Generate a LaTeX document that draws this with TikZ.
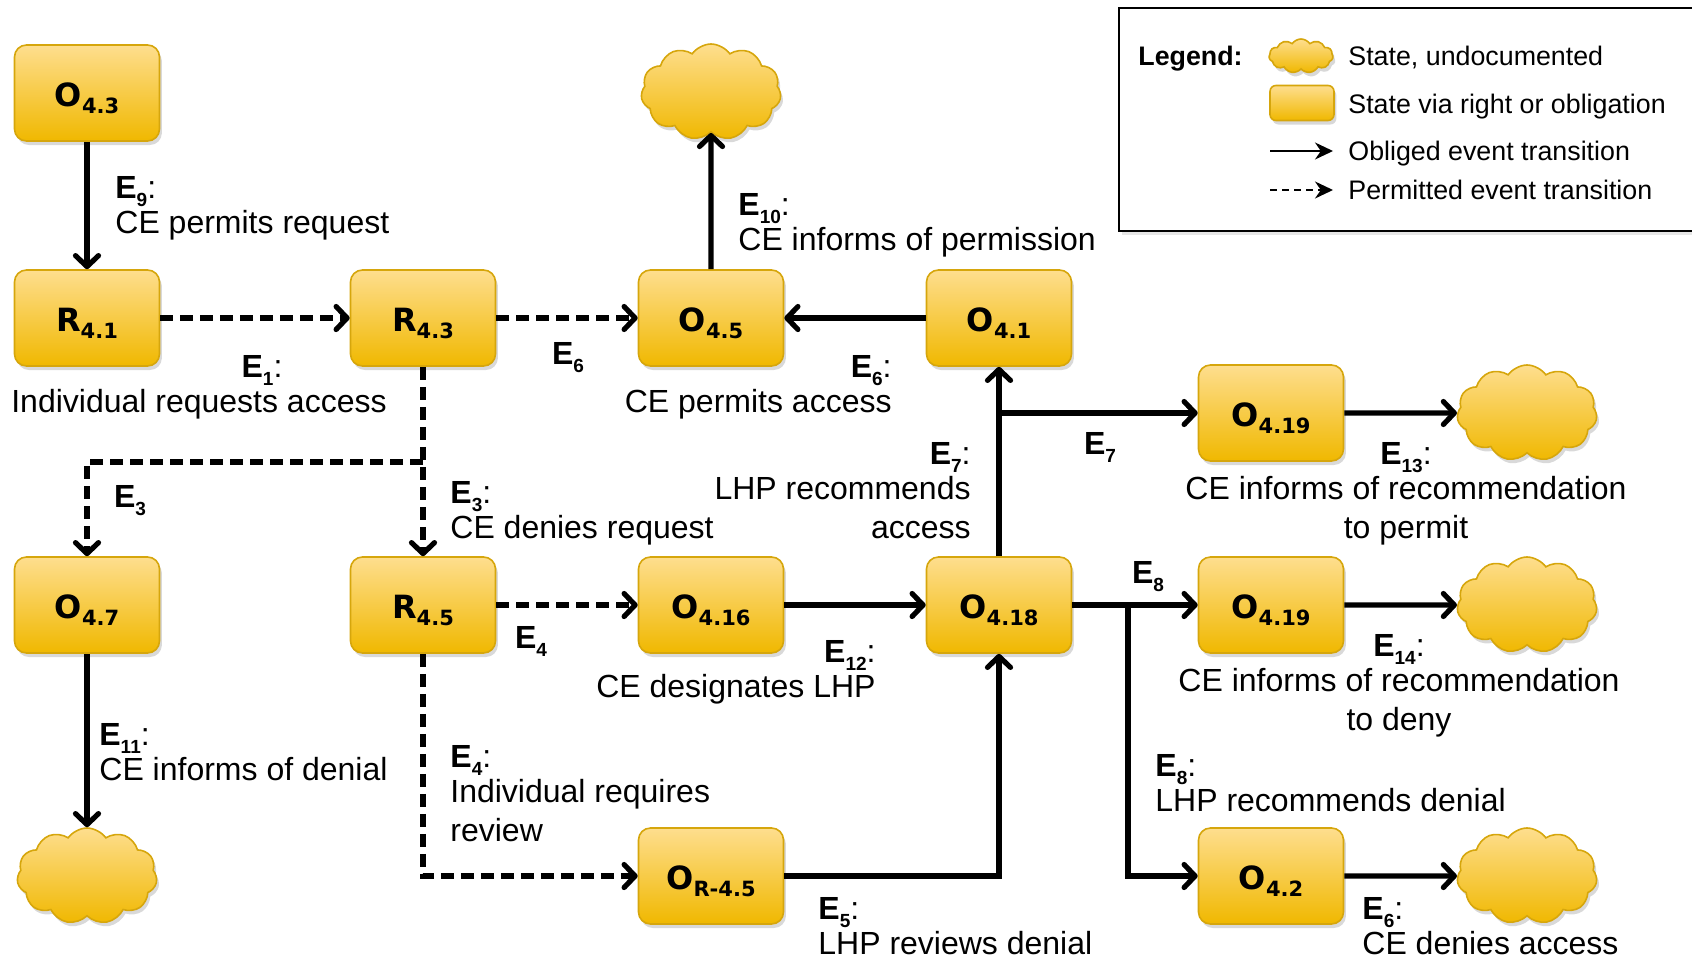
\documentclass[tikz,border=0pt]{standalone}
\usepackage{fontspec}
\setmainfont{Liberation Sans}
\newfontfamily\verdfont{DejaVu Sans}
\usetikzlibrary{arrows.meta,shapes.symbols,shadows}

\definecolor{goldtop}{RGB}{254,222,142}
\definecolor{goldbot}{RGB}{240,184,0}
\definecolor{goldline}{RGB}{214,166,12}

\newcommand{\sname}[2]{{\verdfont\bfseries\fontsize{16}{16}\selectfont #1\smash{\raisebox{-3.5pt}{\fontsize{10.5}{10.5}\selectfont #2}}}}
\newcommand{\ev}[1]{{\bfseries E\raisebox{-4pt}{\fontsize{9.5}{9.5}\selectfont #1}}}

\tikzset{
  state/.style={rectangle, rounded corners=6pt, draw=goldline, line width=0.8pt,
    top color=goldtop, bottom color=goldbot, minimum width=72.5pt, minimum height=48pt,
    inner sep=0pt, text height=13.5pt, text depth=0pt,
    drop shadow={shadow xshift=1.2pt, shadow yshift=-2pt, opacity=0.3}},
  puff/.style={cloud, cloud puffs=11, cloud puff arc=110, cloud ignores aspect,
    draw=goldline, line width=0.8pt, top color=goldtop, bottom color=goldbot,
    minimum width=70pt, minimum height=48pt, inner sep=0pt,
    drop shadow={shadow xshift=1.2pt, shadow yshift=-2pt, opacity=0.3}},
  lbl/.style={inner sep=0pt, font=\fontsize{16}{19.5}\selectfont},
  lgtext/.style={inner sep=0pt, font=\fontsize{13.4}{15}\selectfont, anchor=base west},
  obl/.style={line width=2.6pt, -{Straight Barb[length=5.5pt,width=11.5pt,round]}},
  perm/.style={obl, dash pattern=on 6.5pt off 3.5pt},
}

\begin{document}
\begin{tikzpicture}[x=0.5pt,y=-0.5pt]
\useasboundingbox (0,0) rectangle (1692,959);

% states
\foreach \nm/\x/\y/\a/\b in {o43/87/93/O/4.3, r41/87/318/R/4.1, r43/423/318/R/4.3,
  o45/711/318/O/4.5, o41/999/318/O/4.1, o47/87/605/O/4.7, r45/423/605/R/4.5,
  o416/711/605/O/4.16, o418/999/605/O/4.18, o419a/1271/413/O/4.19,
  o419b/1271/605/O/4.19, o42/1271/876/O/4.2, or45/711/876/O/R-4.5}{
\node[state] (\nm) at (\x,\y) {\sname{\a}{\b}};
}
\foreach \nm/\x/\y in {ctop/711/92, cden/87/876, crec1/1527/413, crec2/1527/605, crec3/1527/876}{
\node[puff] (\nm) at (\x,\y) {};
}

\coordinate (brA) at (423,462);
\coordinate (brB) at (999,413);
\coordinate (brC) at (1128,605);

% transitions
\draw[obl] (o43) -- (r41);
\draw[perm] (r41) -- (r43);
\draw[perm] (r43) -- (o45);
\draw[obl] (o41) -- (o45);
\draw[obl] (o45) -- (ctop);
\draw[perm] (r43) -- (r45);
\draw[perm] (brA) -| (o47);
\draw[obl] (o47) -- (cden);
\draw[perm] (r45) -- (o416);
\draw[perm] (r45) |- (or45);
\draw[obl] (o416) -- (o418);
\draw[obl] (or45) -| (o418);
\draw[obl] (o418) -- (o41);
\draw[obl] (brB) -- (o419a);
\draw[obl] (o419a) -- (crec1);
\draw[obl] (o418) -- (o419b);
\draw[obl] (o419b) -- (crec2);
\draw[obl] (brC) |- (o42);
\draw[obl] (o42) -- (crec3);

% event labels
\node[lbl, anchor=north west, align=left] (ev9) at (115,176) {\ev{9}:\\[-2pt]CE permits request};
\node[lbl, anchor=north, align=center] (ev1) at (199,355) {\hspace*{63pt}\ev{1}:\\[-2pt]Individual requests access};
\node[lbl] (ev6a) at (568,358) {\ev{6}};
\node[lbl, anchor=north west, align=left] (ev10) at (738,193) {\ev{10}:\\[-2pt]CE informs of permission};
\node[lbl, anchor=north east, align=right] (ev6b) at (892,355) {\ev{6}:\\[-2pt]CE permits access};
\node[lbl, anchor=north east, align=right] (ev7a) at (971,442) {\ev{7}:\\[-2pt]LHP recommends\\access};
\node[lbl] (ev7b) at (1100,447) {\ev{7}};
\node[lbl, anchor=north, align=center] (ev13) at (1406,442) {\ev{13}:\\[-2pt]CE informs of recommendation\\to permit};
\node[lbl] (ev3a) at (130,501) {\ev{3}};
\node[lbl, anchor=north west, align=left] (ev3b) at (450,481) {\ev{3}:\\[-2pt]CE denies request};
\node[lbl] (ev4a) at (531,641) {\ev{4}};
\node[lbl, anchor=north east, align=right] (ev12) at (876,640) {\ev{12}:\\[-2pt]CE designates LHP};
\node[lbl] (ev8a) at (1148,577) {\ev{8}};
\node[lbl, anchor=north, align=center] (ev14) at (1399,634) {\ev{14}:\\[-2pt]CE informs of recommendation\\to deny};
\node[lbl, anchor=north west, align=left] (ev11) at (99,723) {\ev{11}:\\[-2pt]CE informs of denial};
\node[lbl, anchor=north west, align=left] (ev4b) at (450,745) {\ev{4}:\\[-2pt]Individual requires\\review};
\node[lbl, anchor=north west, align=left] (ev8b) at (1155,754) {\ev{8}:\\[-2pt]LHP recommends denial};
\node[lbl, anchor=north west, align=left] (ev5) at (818,897) {\ev{5}:\\[-2pt]LHP reviews denial};
\node[lbl, anchor=north west, align=left] (ev6c) at (1362,897) {\ev{6}:\\[-2pt]CE denies access};

% legend
\draw[line width=1pt, fill=white, drop shadow={shadow xshift=1.5pt, shadow yshift=-2pt, opacity=0.2}] (1119,8) rectangle (1720,231);
\node[lgtext, font=\fontsize{13.4}{15}\selectfont\bfseries] (lgd) at (1138,65) {Legend:};
\node[puff, minimum width=32pt, minimum height=17pt] (lgcloud) at (1301,56) {};
\node[state, minimum width=32pt, minimum height=17.5pt, rounded corners=3pt] (lgbox) at (1302,103) {};
\coordinate (lga1) at (1270,151);
\coordinate (lga2) at (1333,151);
\coordinate (lgb1) at (1270,190);
\coordinate (lgb2) at (1333,190);
\draw[line width=1.1pt, -{Stealth[length=9pt,width=8.5pt]}] (lga1) -- (lga2);
\draw[line width=1.1pt, dash pattern=on 3.5pt off 2.5pt, -{Stealth[length=9pt,width=8.5pt]}] (lgb1) -- (lgb2);
\node[lgtext] (lgt1) at (1348,65) {State, undocumented};
\node[lgtext] (lgt2) at (1348,113) {State via right or obligation};
\node[lgtext] (lgt3) at (1348,160) {Obliged event transition};
\node[lgtext] (lgt4) at (1348,199) {Permitted event transition};
\end{tikzpicture}
\end{document}
